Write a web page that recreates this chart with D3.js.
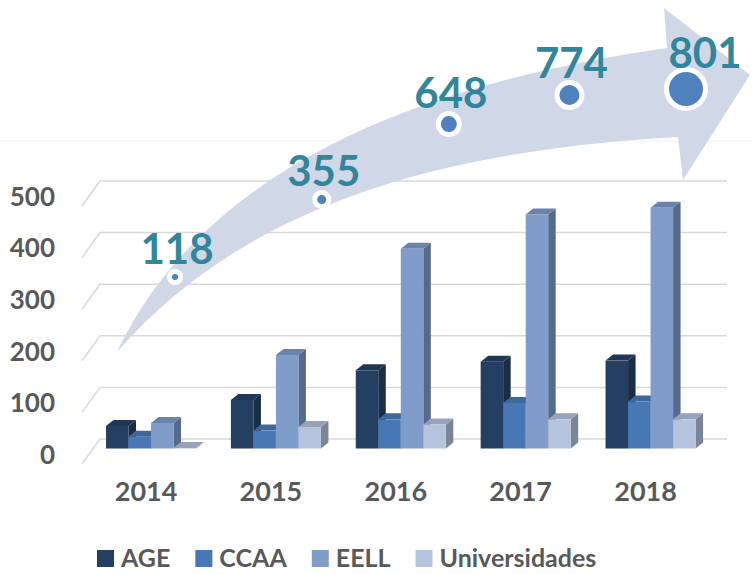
<!DOCTYPE html>
<html>
<head>
<meta charset="utf-8">
<script src="https://cdn.jsdelivr.net/npm/d3@7"></script>
<style>
body { margin: 0; background: #fff; }
text { font-family: Lato, "Open Sans", sans-serif; font-weight: bold; }
</style>
</head>
<body>
<script>
var years = ["2014", "2015", "2016", "2017", "2018"];
var seriesNames = ["AGE", "CCAA", "EELL", "Universidades"];
var age  = [44, 95, 153, 170, 172];
var ccaa = [23, 35, 57, 89, 92];
var eell = [50, 183, 391, 458, 471];
var univ = [1, 42, 47, 57, 57];
var totals = [118, 355, 648, 774, 801];
var yTicks = [0, 100, 200, 300, 400, 500];

var seriesValues = [age, ccaa, eell, univ];
// front, top, side
var colors = [
  ["#243f62", "#1f3757", "#192d47"],
  ["#4777b4", "#3e6899", "#355a85"],
  ["#809dca", "#6a83ab", "#546b8e"],
  ["#b5c3df", "#97a3ba", "#7a859a"]
];

var width = 752, height = 574;
var dx = 7.5, dy = -6;

var svg = d3.select("body").append("svg")
  .attr("width", width)
  .attr("height", height);

var x = d3.scaleBand().domain(years).range([88.6, 713]).paddingInner(0.279).paddingOuter(0.1395);
var xs = d3.scaleBand().domain(seriesNames).range([0, x.bandwidth()]);
var yBar = d3.scaleLinear().domain([0, 500]).range([448.5, 193]);
var yGrid = d3.scaleLinear().domain([0, 500]).range([439, 181]);
var yLab = d3.scaleLinear().domain([0, 500]).range([455, 197]);
// bubbles sit along the arrow
var xBub = d3.scalePow().exponent(0.9).domain([0, years.length - 1]).range([175, 686]);
var yBub = d3.scalePow().exponent(0.7).domain([118, 801]).range([277, 89]);
var rBub = d3.scaleOrdinal().domain(years).range([3, 4.5, 8, 10, 17]);

// faint plot area top
svg.append("line")
  .attr("x1", 0).attr("x2", width)
  .attr("y1", 141).attr("y2", 141)
  .attr("stroke", "#f2f2f2");

// gridlines with the slanted side wall bit
svg.selectAll(".grid")
  .data(yTicks)
  .enter()
  .append("path")
  .attr("class", "grid")
  .attr("d", d => "M82," + (yGrid(d) + 25) + "L100," + yGrid(d) + "L727," + yGrid(d))
  .attr("fill", "none")
  .attr("stroke", "#d9d9d9")
  .attr("stroke-width", 1.5);

// y labels
var yAxis = svg.append("g")
  .attr("transform", "translate(55,0)")
  .call(d3.axisLeft(yLab).tickValues(yTicks).tickSize(0).tickPadding(0));
yAxis.select(".domain").remove();
yAxis.selectAll("text")
  .attr("font-size", 26)
  .attr("fill", "#595959")
  .style("font-family", "Lato, sans-serif")
  .style("font-weight", "bold");

// x labels
var xAxis = svg.append("g")
  .attr("transform", "translate(-5,482)")
  .call(d3.axisBottom(x).tickSize(0).tickPadding(0));
xAxis.select(".domain").remove();
xAxis.selectAll("text")
  .attr("font-size", 27)
  .attr("fill", "#595959")
  .style("font-family", "Lato, sans-serif")
  .style("font-weight", "bold");

// arrow
svg.append("path")
  .attr("d", "M117,352 C170,240 300,100 667,48 L664,8 L750,75 L683,180 L678,137 C450,150 250,200 117,352 Z")
  .attr("fill", "#d0d8e8");

// 3d bars
seriesValues.forEach(function(vals, s) {
  var g = svg.append("g");
  var bars = g.selectAll("g")
    .data(vals)
    .enter()
    .append("g");
  var x0 = (d, i) => x(years[i]) + xs(seriesNames[s]);
  var w = xs.bandwidth();
  var yb = yBar(0);

  bars.append("path")
    .attr("d", function(d, i) {
      var a = x0(d, i) + w, t = yBar(d);
      return "M" + a + "," + yb + "L" + (a + dx) + "," + (yb + dy) + "L" + (a + dx) + "," + (t + dy) + "L" + a + "," + t + "Z";
    })
    .attr("fill", colors[s][2]);

  bars.append("path")
    .attr("d", function(d, i) {
      var a = x0(d, i), t = yBar(d);
      return "M" + a + "," + t + "L" + (a + dx) + "," + (t + dy) + "L" + (a + w + dx) + "," + (t + dy) + "L" + (a + w) + "," + t + "Z";
    })
    .attr("fill", colors[s][1]);

  bars.append("rect")
    .attr("x", (d, i) => x0(d, i))
    .attr("y", d => yBar(d))
    .attr("width", w)
    .attr("height", d => yb - yBar(d))
    .attr("fill", colors[s][0]);
});

// bubbles with totals
svg.selectAll(".ring")
  .data(totals)
  .enter()
  .append("circle")
  .attr("cx", (d, i) => xBub(i))
  .attr("cy", d => yBub(d))
  .attr("r", (d, i) => rBub(years[i]) + 5)
  .attr("fill", "#fff");

svg.selectAll(".dot")
  .data(totals)
  .enter()
  .append("circle")
  .attr("cx", (d, i) => xBub(i))
  .attr("cy", d => yBub(d))
  .attr("r", (d, i) => rBub(years[i]))
  .attr("fill", "#4f81bd");

svg.selectAll(".total")
  .data(totals)
  .enter()
  .append("text")
  .attr("x", (d, i) => xBub(i) + (i == totals.length - 1 ? 19 : 2))
  .attr("y", (d, i) => yBub(d) - 0.6 * (rBub(years[i]) + 5) - 8)
  .attr("text-anchor", "middle")
  .attr("font-size", 42)
  .attr("fill", "#31869b")
  .text(d => d);

// legend
var lx = 97;
seriesNames.forEach(function(name, s) {
  svg.append("rect")
    .attr("x", lx).attr("y", 550)
    .attr("width", 17).attr("height", 17)
    .attr("fill", colors[s][0]);
  var t = svg.append("text")
    .attr("x", lx + 24).attr("y", 567)
    .attr("font-size", 25)
    .attr("fill", "#595959")
    .text(name);
  lx += 24 + t.node().getComputedTextLength() + 25;
});
</script>
</body>
</html>
